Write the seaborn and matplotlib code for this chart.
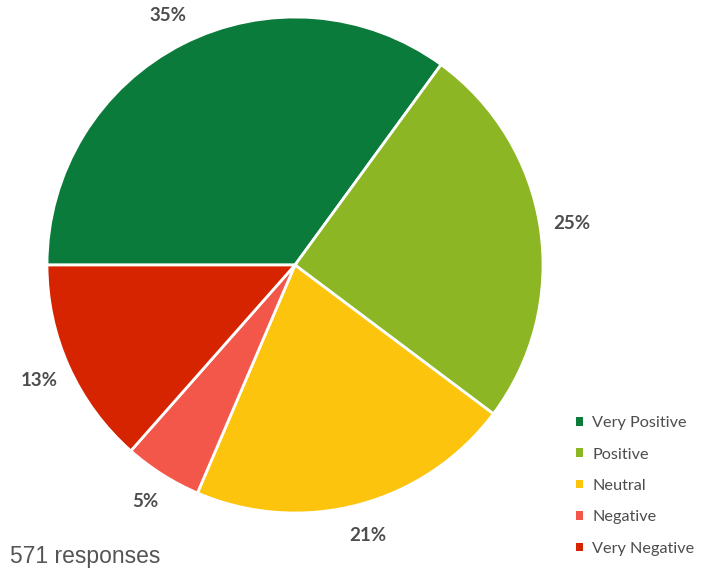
import matplotlib
matplotlib.use("Agg")
import matplotlib.pyplot as plt
import seaborn as sns

categories = ["Very Positive", "Positive", "Neutral", "Negative", "Very Negative"]
counts = [200, 144, 121, 29, 77]
colors = ["#0b7b3b", "#8cb623", "#fdc40e", "#f2574a", "#d62300"]
total_label = "571 responses"

sns.set_theme(style="white")
plt.rcParams["font.family"] = ["Lato", "DejaVu Sans"]

W, H = 704, 572
fig = plt.figure(figsize=(W / 100, H / 100), dpi=100)
cx, cy, R = 295, 265, 248
ax = fig.add_axes([(cx - R) / W, (H - cy - R) / H, 2 * R / W, 2 * R / H])

wedges, texts, autotexts = ax.pie(
    counts,
    colors=colors,
    startangle=180,
    counterclock=False,
    radius=1.0,
    autopct=lambda p: f"{p:.0f}%",
    pctdistance=1.13,
    wedgeprops=dict(edgecolor="white", linewidth=2),
    textprops=dict(color="#4d4d4d", fontsize=13.5, fontweight="bold"),
)
ax.set_xlim(-1, 1)
ax.set_ylim(-1, 1)
ax.set_aspect("equal")
ax.axis("off")

leg = fig.legend(
    wedges, categories,
    loc="upper left",
    bbox_to_anchor=(568 / W, 1 - 408 / H),
    frameon=False,
    fontsize=11.7,
    handlelength=0.45,
    handleheight=0.45,
    handletextpad=0.55,
    labelspacing=1.07,
    borderpad=0,
)
for t in leg.get_texts():
    t.set_color("#4d4d4d")
for h in leg.legend_handles:
    h.set_edgecolor("none")

fig.text(10 / W, 1 - 557 / H, total_label, fontsize=16.5, color="#555555",
         family=["Liberation Sans", "DejaVu Sans"], va="center", ha="left")

fig.savefig("out.png", dpi=100)
